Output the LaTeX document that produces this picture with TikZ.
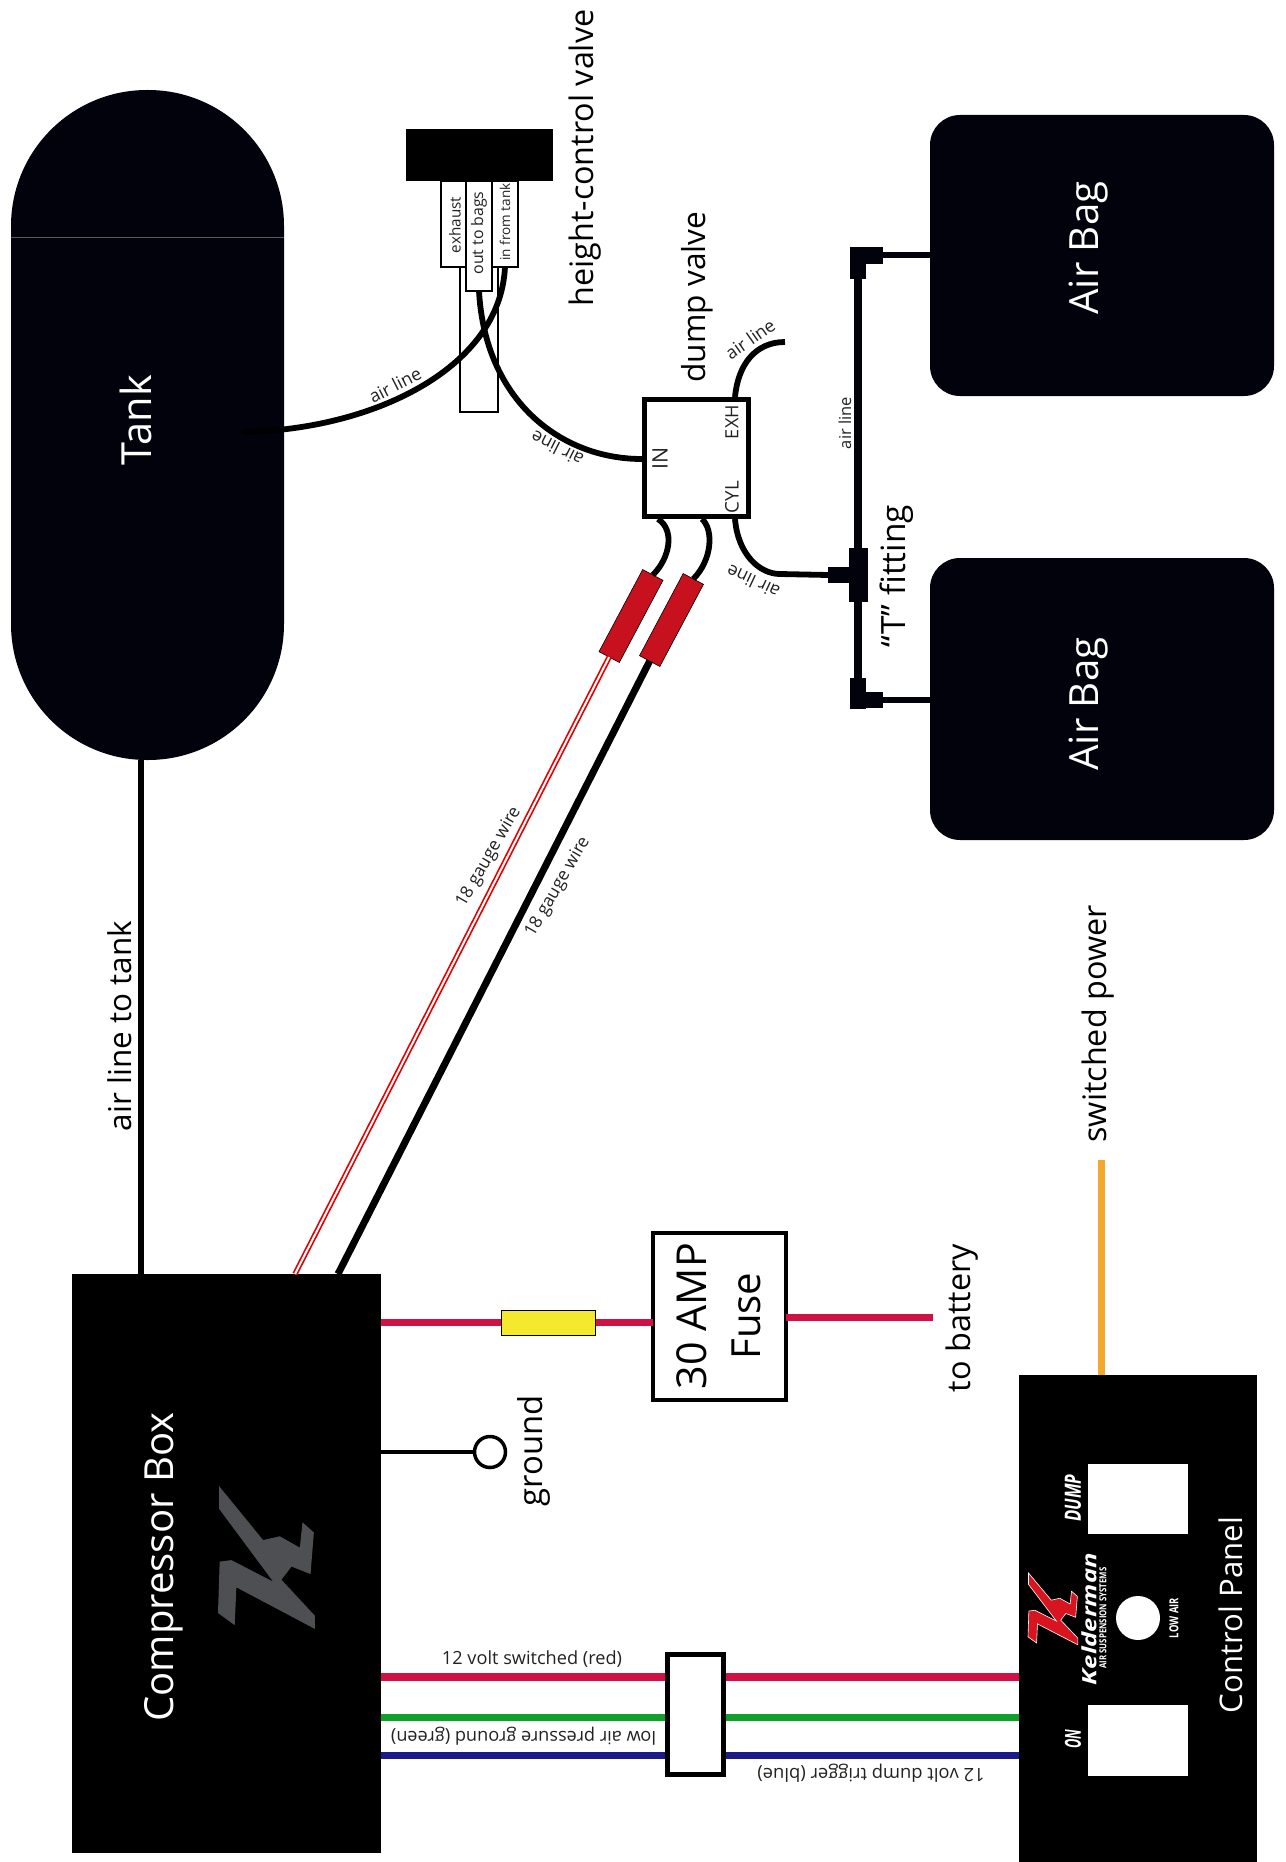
\documentclass[tikz,border=0pt]{standalone}
\usepackage{fontspec}
\usepackage{graphicx}
\setmainfont{Open Sans}
\usetikzlibrary{calc}
\definecolor{navyblack}{HTML}{02020C}
\definecolor{wirered}{HTML}{CF1145}
\definecolor{wiregreen}{HTML}{12A02C}
\definecolor{wireblue}{HTML}{1C1A86}
\definecolor{wireorange}{HTML}{F2A92E}
\definecolor{fuseyellow}{HTML}{F4E92C}
\definecolor{fusered}{HTML}{C8111F}
\definecolor{logogray}{HTML}{4D4F52}
\definecolor{logored}{HTML}{D8141E}
\definecolor{txt}{HTML}{222222}
\newcommand\fw[2]{\resizebox{#1pt}{!}{#2}}
\newcommand\fwh[3]{\resizebox{#1pt}{#2pt}{#3}}
\newcommand\logopath{(3,0) -- (135,143) -- (185,133) -- (245,163) -- (253,96) -- (287,123) -- (277,233) -- (220,213) -- (190,248) -- (290,343) -- (290,378) -- (55,268) -- (50,368) -- (0,336) -- (5,200) -- (40,196) -- (165,253) -- (3,60) -- cycle}
\tikzset{
  box/.style={rectangle,inner sep=0pt,outer sep=0pt},
  darkbox/.style={box,fill=navyblack},
  whitebox/.style={box,fill=white,draw=black,line width=1.2pt},
  lab/.style={inner sep=0pt,outer sep=0pt,text=black},
  wlab/.style={inner sep=0pt,outer sep=0pt,text=white},
  tiny lab/.style={inner sep=0pt,outer sep=0pt,text=txt},
  airline/.style={draw=black,line width=5.8pt},
  stiff/.style={draw=navyblack,line width=7pt},
  wire/.style={line width=7.5pt},
}
\begin{document}
\begin{tikzpicture}[x=1pt,y=-1pt]
\useasboundingbox[fill=white] (0,0) rectangle (1285,1862);
% main blocks
\node[darkbox,minimum width=273pt,minimum height=670pt,rounded corners=136pt] (tank) at (147.5,425) {};
\draw[draw=gray!70!black,line width=0.7pt] (tank.west |- 0,237) -- (tank.east |- 0,237);
\node[darkbox,minimum width=344pt,minimum height=281pt,rounded corners=30pt] (bag1) at (1102,255.5) {};
\node[darkbox,minimum width=344pt,minimum height=282pt,rounded corners=30pt] (bag2) at (1102,699) {};
\node[box,fill=black,minimum width=309pt,minimum height=579pt] (comp) at (226.5,1563.5) {};
\node[box,fill=black,minimum width=238pt,minimum height=487pt] (panel) at (1138,1618.5) {};
% height-control valve
\node[whitebox,minimum width=38pt,minimum height=231pt] (hstem) at (479,296.5) {};
\node[box,fill=black,minimum width=147pt,minimum height=52pt] (hcv) at (479.5,155) {};
\node[whitebox,minimum width=25pt,minimum height=86pt] (hexh) at (453.5,224) {};
\node[whitebox,minimum width=26pt,minimum height=110pt] (hout) at (479,236) {};
\node[whitebox,minimum width=26pt,minimum height=86pt] (hin) at (505,224) {};
\node[tiny lab,rotate=90] at (455,225) {\fw{56}{exhaust}};
\node[tiny lab,rotate=90] at (479,233) {\fw{83}{out to bags}};
\node[tiny lab,rotate=90] at (505,222) {\fw{77}{in from tank}};
% dump valve
\node[box,fill=white,draw=black,line width=5pt,minimum width=104pt,minimum height=117pt] (dv) at (696.5,458) {};
\node[tiny lab,rotate=90] at (660,458) {\fw{22}{IN}};
\node[tiny lab,rotate=90] at (732,422) {\fw{34}{EXH}};
\node[tiny lab,rotate=90] at (732,497) {\fw{32}{CYL}};
\coordinate (dvIn) at (642,459);
\coordinate (dvExh) at (735,397);
\coordinate (dvCyl) at (735,519);
\coordinate (dvA) at (658,519);
\coordinate (dvB) at (702,519);
\coordinate (tankport) at (243,432);
\coordinate (exhEnd) at (785,342);
% air lines
\draw[airline] (tankport) .. controls (370,430) and (500,370) .. (hin.south);
\draw[airline] (hout.south) .. controls (485,400) and (560,459) .. (dvIn);
\draw[airline] (dvExh) .. controls (738,365) and (755,342) .. (exhEnd);
% T fitting and bag lines
\node[box,fill=navyblack,minimum width=19pt,minimum height=54pt] (tbar) at (858.5,575) {};
\node[box,fill=navyblack,minimum width=22pt,minimum height=16pt] (tstem) at (839,575) {};
\draw[airline] (dvCyl) .. controls (738,555) and (760,574) .. (780,574) -- (tstem.west);
\node[box,fill=navyblack,minimum width=33pt,minimum height=17pt] (elbA) at (866.5,255.5) {};
\node[box,fill=navyblack,minimum width=16pt,minimum height=32pt] (elbAv) at (858,263) {};
\node[box,fill=navyblack,minimum width=33pt,minimum height=16pt] (elbB) at (866.5,700) {};
\node[box,fill=navyblack,minimum width=16pt,minimum height=31pt] (elbBv) at (858,693.5) {};
\draw[stiff,line width=8pt] (elbAv.south) -- (elbAv.south |- tbar.north);
\draw[stiff,line width=8pt] (elbBv.north |- tbar.south) -- (elbBv.north);
\draw[stiff,line width=6pt] (elbA.east) -- (bag1.west);
\draw[stiff,line width=6pt] (elbB.east) -- (bag2.west |- elbB.east);
% air line to tank
\draw[draw=black,line width=6pt] (comp.north -| 141,0) -- (tank.south -| 141,0);
% fuses on the 18 gauge wires
\node[box,fill=fusered,draw=black,line width=0.6pt,rotate=62,minimum width=93pt,minimum height=23pt] (fuseA) at (631,616) {};
\node[box,fill=fusered,draw=black,line width=0.6pt,rotate=62,minimum width=93pt,minimum height=23pt] (fuseB) at (671.5,620) {};
\draw[airline] (dvA) .. controls (675,530) and (670,558) .. (fuseA.east);
\draw[airline] (dvB) .. controls (714,530) and (712,560) .. (fuseB.east);
\coordinate (compA) at (295,1274);
\coordinate (compB) at (338,1274);
\draw[draw=red!90!black,double=white,double distance=2pt,line width=1.7pt] (fuseA.west) -- (compA);
\draw[draw=black,line width=7pt] (fuseB.west) -- (compB);
% fuse and battery
\node[box,fill=white,draw=black,line width=4pt,minimum width=133pt,minimum height=167pt] (amp) at (719,1316) {};
\coordinate (battery) at (933,1317);
\draw[draw=wirered,line width=7pt] (comp.east |- 0,1322) -- (amp.west |- 0,1322);
\draw[draw=wirered,line width=7pt] (amp.east |- battery) -- (battery);
\node[box,fill=fuseyellow,draw=black,line width=1.2pt,minimum width=94pt,minimum height=25pt] (yfuse) at (548.5,1323) {};
% ground
\node[box,shape=circle,fill=white,draw=black,line width=3.5pt,minimum size=31pt] (gnd) at (490,1452) {};
\draw[draw=black,line width=4pt] (comp.east |- gnd) -- (gnd.west);
% switched power
\coordinate (swp) at (1101,1160);
\draw[draw=wireorange,line width=7pt] (swp) -- (panel.north -| swp);
% harness
\draw[draw=wirered,wire] (comp.east |- 0,1677) -- (panel.west |- 0,1677);
\draw[draw=wiregreen,line width=7pt] (comp.east |- 0,1717) -- (panel.west |- 0,1717);
\draw[draw=wireblue,line width=7pt] (comp.east |- 0,1755) -- (panel.west |- 0,1755);
\node[box,fill=white,draw=black,line width=5pt,minimum width=56pt,minimum height=120pt] (conn) at (695.5,1714.5) {};
% control panel details
\node[box,fill=white,minimum width=100pt,minimum height=70pt] (swdump) at (1138,1499) {};
\node[box,fill=white,minimum width=100pt,minimum height=71pt] (swon) at (1138,1740.5) {};
\node[box,shape=circle,fill=white,minimum size=44pt] (lamp) at (1138,1618) {};
\node[wlab,rotate=90] at (1073,1498) {\fwh{47}{16}{\bfseries\itshape DUMP}};
\node[wlab,rotate=90] at (1073,1739) {\fwh{19}{16}{\bfseries\itshape ON}};
\node[wlab,rotate=90] at (1174,1618) {\fwh{40}{9}{\bfseries LOW AIR}};
\node[wlab,rotate=90] at (1089,1619) {\fwh{132}{15}{\bfseries\itshape Kelderman}};
\node[wlab,rotate=90] at (1103,1618) {\fwh{101}{7}{\bfseries AIR SUSPENSION SYSTEMS}};
\begin{scope}[shift={(1028,1573)},xscale=.172,yscale=.19]
\fill[fill=logored,draw=white,line width=0.6pt] \logopath;
\end{scope}
\begin{scope}[shift={(218,1486)},xscale=.334,yscale=.378]
\fill[fill=logogray] \logopath;
\end{scope}
% big labels
\node[wlab,rotate=90] at (136,420) {\fw{90}{Tank}};
\node[wlab,rotate=90] at (1089,248) {\fw{133}{Air Bag}};
\node[wlab,rotate=90] at (1089,704) {\fw{133}{Air Bag}};
\node[wlab,rotate=90] at (164,1567) {\fw{309}{Compressor Box}};
\node[wlab,rotate=90] at (1231,1615) {\fw{196}{Control Panel}};
\node[lab,rotate=90] at (120,1026) {\fw{210}{air line to tank}};
\node[lab,rotate=90] at (585,158) {\fw{297}{height-control valve}};
\node[lab,rotate=90] at (697,297) {\fw{171}{dump valve}};
\node[lab,rotate=90] at (897,576) {\fw{142}{“T” fitting}};
\node[lab,rotate=90] at (692,1316) {\fw{146}{30 AMP}};
\node[lab,rotate=90] at (746,1316) {\fw{87}{Fuse}};
\node[lab,rotate=90] at (962,1318) {\fw{148}{to battery}};
\node[lab,rotate=90] at (534,1451) {\fw{111}{ground}};
\node[lab,rotate=90] at (1098,1024) {\fw{237}{switched power}};
% small labels
\node[tiny lab,rotate=27] at (395,385) {\fw{56}{air line}};
\node[tiny lab,rotate=153] at (557,449) {\fw{56}{air line}};
\node[tiny lab,rotate=35] at (750,339) {\fw{56}{air line}};
\node[tiny lab,rotate=155] at (753,582) {\fw{56}{air line}};
\node[tiny lab,rotate=90] at (845,423) {\fw{52}{air line}};
\node[tiny lab,rotate=60] at (489,857) {\fw{112}{18 gauge wire}};
\node[tiny lab,rotate=60] at (558,887) {\fw{112}{18 gauge wire}};
\node[tiny lab] at (532,1659) {\fw{180}{12 volt switched (red)}};
\node[tiny lab,rotate=180] at (523.5,1736) {\fw{265}{low air pressure ground (green)}};
\node[tiny lab,rotate=180] at (871,1773) {\fw{227}{12 volt dump trigger (blue)}};
\end{tikzpicture}
\end{document}
